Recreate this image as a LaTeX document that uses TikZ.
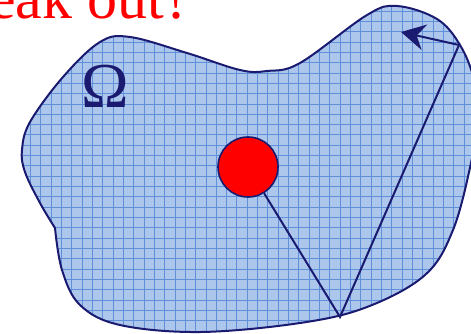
\documentclass[tikz,border=0pt]{standalone}
\usepackage{fontspec}
\setmainfont{Liberation Serif}
\usetikzlibrary{arrows.meta}
\definecolor{navy}{RGB}{26,26,112}
\definecolor{blobfill}{RGB}{172,198,236}
\definecolor{gridblue}{RGB}{96,144,218}
\def\myblob{plot[smooth, tension=0.6] coordinates {(55,228) (40,203) (25,172) (22,150) (30,122) (63,77) (100,42) (130,37) (187,53) (240,70) (267,71) (300,63) (367,15) (397,6) (437,19) (460,45) (474,80) (477,120) (471,163) (453,230) (425,275) (367,307) (300,323) (200,332) (120,325) (80,305) (62,270) (55,228)} -- cycle}
\tikzset{
  edge/.style={draw=navy, line width=2pt},
  title/.style={text=red, font=\fontsize{60}{66}\selectfont},
  omega/.style={text=navy, font=\fontsize{64}{70}\selectfont},
}
\begin{document}
\begin{tikzpicture}[x=1pt, y=-1pt]
\useasboundingbox (0,0) rectangle (471,333);
\clip (0,0) rectangle (471,333);
\begin{scope}
  \clip \myblob;
  \fill[blobfill] (0,0) rectangle (480,340);
  \foreach \k in {0,...,46} \draw[gridblue, line width=1pt] ({-0.6+10.33*\k},0) -- ({-0.6+10.33*\k},340);
  \foreach \k in {0,...,33} \draw[gridblue, line width=1pt] (0,{0.7+10.33*\k}) -- (480,{0.7+10.33*\k});
\end{scope}
\draw[navy, line width=2pt] \myblob;
\node[title, anchor=base east, inner sep=0pt] (t) at (191,18) {eak out?};
\node[omega, anchor=base, inner sep=0pt] (om) at (105.5,107) {Ω};
\node[circle, fill=red, draw=navy, line width=1.6pt, minimum size=60pt, inner sep=0pt] (hole) at (248,167) {};
\coordinate (apex) at (340,317);
\coordinate (refl) at (459,45);
\coordinate (dir) at (401,32);
\draw[edge] (hole) -- (apex) -- (refl);
\draw[edge, -{Stealth[length=24pt, width=26pt, inset=8pt]}] (refl) -- (dir);
\end{tikzpicture}
\end{document}
